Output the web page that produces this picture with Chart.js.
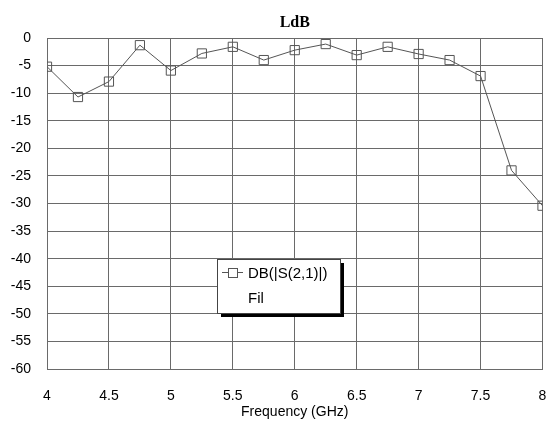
<!DOCTYPE html>
<html>
<head>
<meta charset="utf-8">
<script src="https://cdn.jsdelivr.net/npm/chart.js@4"></script>
<style>
  html, body { margin: 0; padding: 0; background: #fff; }
  #wrap { width: 550px; height: 425px; }
</style>
</head>
<body>
<div id="wrap"><canvas id="ldbChart" width="550" height="425"></canvas></div>
<script>
// Data
const freqs = [4, 4.25, 4.5, 4.75, 5, 5.25, 5.5, 5.75, 6, 6.25, 6.5, 6.75, 7, 7.25, 7.5, 7.75, 8];
const s21dB = [-5.2, -10.7, -7.9, -1.3, -5.9, -2.8, -1.6, -4, -2.2, -1.1, -3.1, -1.6, -2.9, -4, -6.9, -24, -30.4];
const titleText = 'LdB';
const xAxisTitle = 'Frequency (GHz)';
const legendLines = ['DB(|S(2,1)|)', 'Fil'];

const lineColor = '#555';
const gridColor = '#6a6a6a';

// Title, x axis caption and the boxed legend
const overlay = {
  id: 'overlay',
  afterDraw(chart) {
    const c = chart.ctx;
    const area = chart.chartArea;
    c.save();
    c.fillStyle = '#000';
    c.textAlign = 'center';
    c.textBaseline = 'alphabetic';
    c.font = 'bold 16px "Liberation Serif", serif';
    c.fillText(titleText, (area.left + area.right) / 2, 27);
    c.font = '14px "Liberation Sans", Arial, sans-serif';
    c.fillText(xAxisTitle, (area.left + area.right) / 2, 416);

    // legend box with shadow
    const bx = 217, by = 259, bw = 123, bh = 54;
    c.fillStyle = '#000';
    c.fillRect(bx + 4, by + 4, bw, bh);
    c.fillStyle = '#fff';
    c.fillRect(bx, by, bw, bh);
    c.strokeStyle = '#444';
    c.lineWidth = 1;
    c.strokeRect(bx + 0.5, by + 0.5, bw, bh);

    c.strokeStyle = lineColor;
    c.beginPath();
    c.moveTo(222, 272.5);
    c.lineTo(243, 272.5);
    c.stroke();
    c.fillStyle = '#fff';
    c.fillRect(228.5, 268.5, 9, 9);
    c.strokeRect(228.5, 268.5, 9, 9);

    c.fillStyle = '#000';
    c.textAlign = 'left';
    c.font = '15px "Liberation Sans", Arial, sans-serif';
    c.fillText(legendLines[0], 248, 278);
    c.fillText(legendLines[1], 248, 303);
    c.restore();
  }
};

const ctx = document.getElementById('ldbChart').getContext('2d');
const ldbChart = new Chart(ctx, {
  type: 'line',
  data: {
    datasets: [{
      label: legendLines[0],
      data: freqs.map((f, i) => ({ x: f, y: s21dB[i] })),
      borderColor: lineColor,
      borderWidth: 1,
      pointStyle: 'rect',
      pointRadius: 6.5,
      pointBorderColor: lineColor,
      pointBorderWidth: 1,
      pointBackgroundColor: 'transparent',
      tension: 0
    }]
  },
  options: {
    responsive: false,
    animation: false,
    layout: { padding: { top: 38, right: 4, left: 0, bottom: 0 } },
    plugins: {
      legend: { display: false },
      title: { display: false },
      tooltip: { enabled: false }
    },
    scales: {
      x: {
        type: 'linear',
        min: 4,
        max: 8,
        afterFit(scale) { scale.height = 56; },
        // invisible tick marks push the labels down without widening the side padding
        grid: { color: gridColor, drawTicks: true, tickLength: 19, tickColor: 'rgba(0,0,0,0)', lineWidth: 1 },
        border: { color: gridColor },
        ticks: {
          stepSize: 0.5,
          padding: 0,
          color: '#000',
          font: { family: '"Liberation Sans", Arial, sans-serif', size: 14 },
          maxRotation: 0,
          callback: v => String(v)
        }
      },
      y: {
        min: -60,
        max: 0,
        afterFit(scale) { scale.width = 47; },
        grid: { color: gridColor, drawTicks: false, lineWidth: 1 },
        border: { color: gridColor },
        ticks: {
          stepSize: 5,
          padding: 16,
          color: '#000',
          font: { family: '"Liberation Sans", Arial, sans-serif', size: 14 },
          callback: v => String(v)
        }
      }
    }
  },
  plugins: [overlay]
});
</script>
</body>
</html>
